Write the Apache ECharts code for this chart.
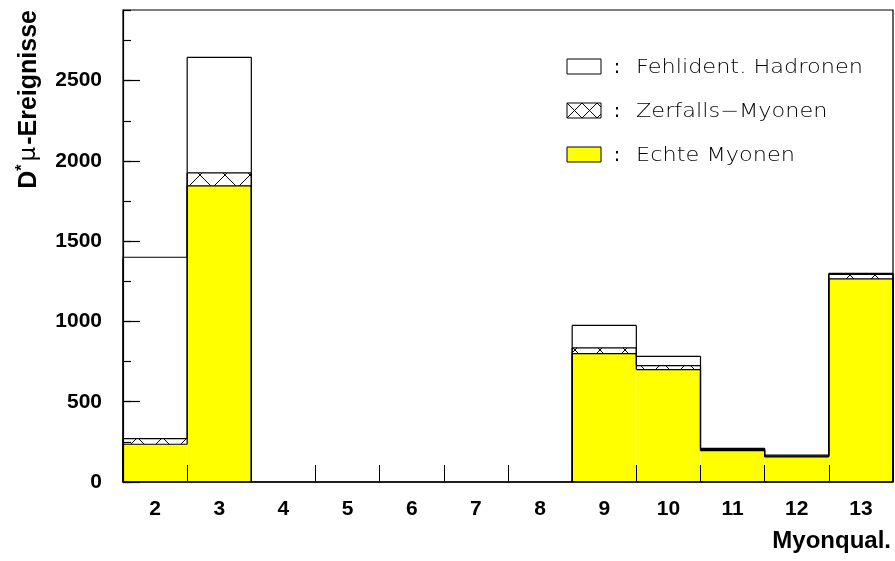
<!DOCTYPE html>
<html>
<head>
<meta charset="utf-8">
<script src="https://cdn.jsdelivr.net/npm/echarts@6/dist/echarts.min.js"></script>
<style>
  html, body { margin: 0; padding: 0; background: #ffffff; }
  #chart { width: 895px; height: 561px; }
</style>
</head>
<body>
<div id="chart"></div>
<script>
// Muon quality classes (x axis)
const categories = ['2', '3', '4', '5', '6', '7', '8', '9', '10', '11', '12', '13'];

// D* mu event counts per class, split by source (stacked bottom to top)
const echteMyonen       = [235, 1845, 0, 0, 0, 0, 0, 800, 700, 195, 157, 1265];
const zerfallsMyonen    = [35,    80, 0, 0, 0, 0, 0,  35,  25,   8,   4,   28];
const fehlidentHadronen = [1130, 720, 0, 0, 0, 0, 0, 140,  58,   7,   7,    7];

// y axis range and tick spacing
const yMin = 0;
const yMax = 2940;
const yMajor = 500;
const yMinor = 250;

// legend entries
const legendLabels = ['Fehlident. Hadronen', 'Zerfalls\u2212Myonen', 'Echte Myonen'];

const YELLOW = '#ffff00';
const BOLD_FONT = '"Liberation Sans", Arial, Helvetica, sans-serif';
const THIN_FONT = '"DejaVu Sans", "Liberation Sans", sans-serif';

// cross-hatch fill for the decay-muon component
function makeCrossHatch(size) {
  const c = document.createElement('canvas');
  c.width = size; c.height = size;
  const g = c.getContext('2d');
  g.fillStyle = '#ffffff';
  g.fillRect(0, 0, size, size);
  g.strokeStyle = '#000000';
  g.lineWidth = 1;
  g.beginPath();
  g.moveTo(0, 0); g.lineTo(size, size);
  g.moveTo(size, 0); g.lineTo(0, size);
  g.stroke();
  return c;
}
const hatchPattern = { image: makeCrossHatch(25), repeat: 'repeat' };
const hatchPatternSmall = { image: makeCrossHatch(15), repeat: 'repeat' };

// empty classes are left out of the bar fills
const asBars = arr => arr.map(v => (v === 0 ? '-' : v));

// cumulative levels of the three stacked components
const level1 = echteMyonen.slice();
const level2 = echteMyonen.map((v, i) => v + zerfallsMyonen[i]);
const level3 = level2.map((v, i) => v + fehlidentHadronen[i]);
const levels = [level1, level2, level3];

// histogram outlines: top edge of each bin plus the step from the previous bin
function renderOutline(params, api) {
  const i = api.value(0);
  const bw = api.size([1, 0])[0];
  const children = [];
  const lineStyle = { stroke: '#000000', lineWidth: 1.2 };
  levels.forEach(lv => {
    const cur = lv[i];
    const prev = i > 0 ? lv[i - 1] : 0;
    const c = api.coord([i, cur]);
    const p = api.coord([i, prev]);
    const x0 = c[0] - bw / 2;
    const x1 = c[0] + bw / 2;
    if (cur > 0) {
      children.push({ type: 'line', shape: { x1: x0, y1: c[1], x2: x1, y2: c[1] }, style: lineStyle });
    }
    if (cur !== prev) {
      children.push({ type: 'line', shape: { x1: x0, y1: p[1], x2: x0, y2: c[1] }, style: lineStyle });
    }
    if (i === categories.length - 1 && cur > 0) {
      const z = api.coord([i, 0]);
      children.push({ type: 'line', shape: { x1: x1, y1: c[1], x2: x1, y2: z[1] }, style: lineStyle });
    }
  });
  return { type: 'group', children: children };
}

const chart = echarts.init(document.getElementById('chart'), null, { renderer: 'canvas' });

const legendX = 567;
const legendRows = [67, 111, 155];
const legendFills = ['#ffffff', hatchPatternSmall, YELLOW];

const graphics = [];
legendRows.forEach((cy, k) => {
  graphics.push({
    type: 'rect',
    x: legendX, y: cy - 8,
    shape: { x: 0, y: 0, width: 34, height: 15 },
    style: { fill: legendFills[k], stroke: '#000000', lineWidth: 1 },
    z: 10
  });
  graphics.push({
    type: 'text',
    x: 617, y: cy + 1,
    style: { text: ':', font: '400 19px ' + THIN_FONT, fill: '#000000', textAlign: 'center', textVerticalAlign: 'middle' },
    z: 10
  });
  graphics.push({
    type: 'text',
    x: 636, y: cy + 1,
    scaleX: 1.18,
    style: { text: legendLabels[k], font: '200 19px ' + THIN_FONT, fill: '#000000', textAlign: 'left', textVerticalAlign: 'middle' },
    z: 10
  });
});

// y axis title, rotated
graphics.push({
  type: 'text',
  x: 29, y: 10,
  rotation: Math.PI / 2,
  style: {
    text: '{b|D}{s|*}{m|\u03bc}{b|-Ereignisse}',
    textAlign: 'right',
    textVerticalAlign: 'middle',
    rich: {
      b: { font: 'bold 25px ' + BOLD_FONT, fill: '#000' },
      s: { font: 'bold 16px ' + BOLD_FONT, fill: '#000', verticalAlign: 'top', padding: [0, 3, 12, 0] },
      m: { font: '23px ' + THIN_FONT, fill: '#000', padding: [0, 2, 0, 0] }
    }
  },
  z: 10
});

// x axis title
graphics.push({
  type: 'text',
  x: 891, y: 541,
  style: { text: 'Myonqual.', font: 'bold 24px ' + BOLD_FONT, fill: '#000', textAlign: 'right', textVerticalAlign: 'middle' },
  z: 10
});

const option = {
  animation: false,
  backgroundColor: '#ffffff',
  grid: {
    left: 123, right: 2, top: 10, bottom: 79, z: 6,
    show: true, borderColor: '#000000', borderWidth: 1.2, backgroundColor: 'transparent'
  },
  xAxis: {
    type: 'category',
    data: categories,
    boundaryGap: true,
    z: 6,
    axisLine: { show: true, lineStyle: { color: '#000', width: 1.5 } },
    axisTick: { show: true, inside: true, length: 17, alignWithLabel: false, lineStyle: { color: '#000', width: 1 } },
    axisLabel: { color: '#000', fontFamily: BOLD_FONT, fontWeight: 'bold', fontSize: 21, margin: 17 },
    splitLine: { show: false }
  },
  yAxis: [
    {
      type: 'value',
      min: yMin, max: yMax, interval: yMajor,
      z: 6,
      axisLine: { show: true, lineStyle: { color: '#000', width: 1.2 } },
      axisTick: { show: true, inside: true, length: 17, lineStyle: { color: '#000', width: 1.2 } },
      axisLabel: {
        color: '#000', fontFamily: BOLD_FONT, fontWeight: 'bold', fontSize: 21, margin: 21, showMaxLabel: false,
        formatter: v => String(v)
      },
      splitLine: { show: false }
    },
    {
      type: 'value',
      position: 'left',
      min: yMin, max: yMax, interval: yMinor,
      z: 6,
      axisLine: { show: false },
      axisTick: { show: true, inside: true, length: 8, lineStyle: { color: '#000', width: 1.2 } },
      axisLabel: { show: false },
      splitLine: { show: false }
    }
  ],
  series: [
    {
      name: 'Echte Myonen', type: 'bar', stack: 'dmu', barCategoryGap: '0%',
      data: asBars(echteMyonen),
      itemStyle: { color: YELLOW, borderColor: YELLOW, borderWidth: 1 }, z: 2
    },
    {
      name: 'Zerfalls-Myonen', type: 'bar', stack: 'dmu', barCategoryGap: '0%',
      data: asBars(zerfallsMyonen),
      itemStyle: { color: hatchPattern, borderWidth: 0 }, z: 2
    },
    {
      name: 'Fehlident. Hadronen', type: 'bar', stack: 'dmu', barCategoryGap: '0%',
      data: asBars(fehlidentHadronen),
      itemStyle: { color: '#ffffff', borderWidth: 0 }, z: 2
    },
    {
      name: 'outline', type: 'custom',
      data: categories.map((c, i) => [i, level3[i]]),
      renderItem: renderOutline,
      silent: true, z: 5
    }
  ],
  graphic: graphics
};

chart.setOption(option);
</script>
</body>
</html>
